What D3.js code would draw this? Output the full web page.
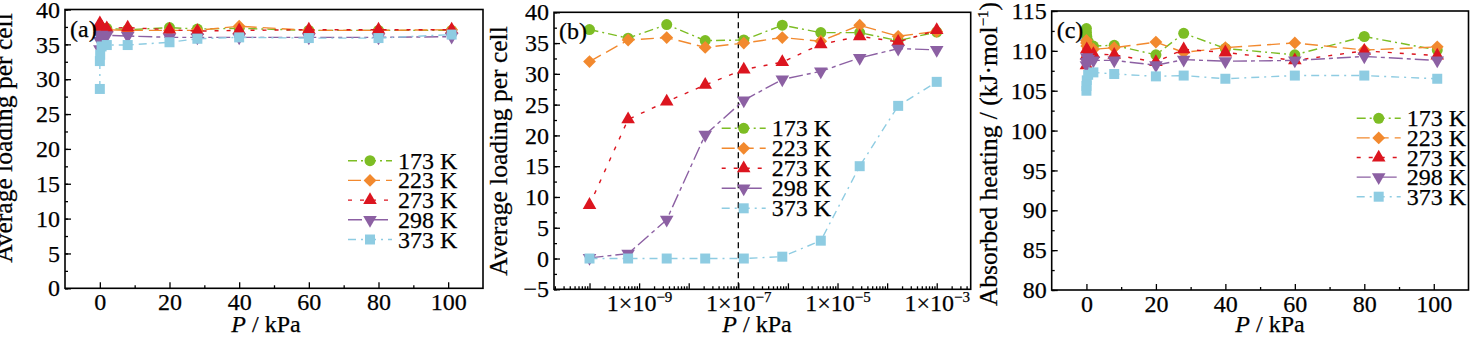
<!DOCTYPE html>
<html>
<head>
<meta charset="utf-8">
<script src="https://cdn.jsdelivr.net/npm/d3@7/dist/d3.min.js"></script>
<style>
  body { margin: 0; background: #fff; }
  svg text { font-family: "Liberation Serif", "Times New Roman", Times, serif; fill: #000; stroke: #000; stroke-width: 0.25px; }
</style>
</head>
<body>
<div id="chart"></div>
<script>
// Series labels (temperatures)
const temperatures = ["173 K", "223 K", "273 K", "298 K", "373 K"];

// (a) and (c): pressure in kPa, linear axis
const pressureKPa = [0.001, 0.01, 0.1, 0.5, 2, 8, 20, 28, 40, 60, 80, 101];

// (a) average loading per cell
const loadingA173 = [37.0, 37.3, 37.5, 37.4, 37.3, 37.1, 37.4, 37.2, 37.3, 37.0, 37.0, 37.0];
const loadingA223 = [36.6, 37.2, 37.6, 37.3, 37.1, 37.0, 37.0, 37.0, 37.6, 37.0, 37.0, 37.1];
const loadingA273 = [37.6, 38.0, 37.8, 37.5, 37.3, 37.4, 37.1, 36.9, 37.0, 37.1, 37.1, 37.1];
const loadingA298 = [34.3, 35.5, 36.2, 36.4, 36.3, 36.2, 36.0, 36.0, 36.0, 36.0, 36.0, 36.1];
const loadingA373 = [28.6, 32.6, 33.5, 34.7, 34.9, 34.9, 35.3, 35.8, 36.0, 35.9, 35.9, 36.4];

// (b): low pressure range, log axis
const pressureLowKPa = [1e-10, 6.0e-10, 3.6e-9, 2.15e-8, 1.29e-7, 7.7e-7, 4.6e-6, 2.8e-5, 1.67e-4, 1e-3];
const loadingB173 = [37.2, 35.8, 38.0, 35.4, 35.5, 37.9, 36.7, 36.7, 35.4, 36.8];
const loadingB223 = [32.0, 35.5, 35.9, 34.3, 35.0, 35.9, 35.3, 37.9, 36.1, 36.9];
const loadingB273 = [8.7, 22.6, 25.5, 28.2, 30.7, 31.9, 34.8, 36.1, 35.2, 37.1];
const loadingB298 = [0.1, 0.8, 6.3, 20.1, 25.7, 29.1, 30.4, 32.6, 34.1, 33.9];
const loadingB373 = [0.0, 0.0, 0.0, 0.0, 0.0, 0.3, 2.9, 15.0, 24.8, 28.7];

// (c) absorbed heating, kJ/mol
const heatC173 = [112.8, 112.3, 111.8, 111.2, 110.6, 110.7, 109.5, 112.2, 110.3, 109.5, 111.8, 110.1];
const heatC223 = [111.3, 111.0, 110.6, 110.3, 110.2, 110.4, 111.1, 109.8, 110.4, 111.0, 110.1, 110.5];
const heatC273 = [108.2, 109.4, 110.2, 109.8, 109.6, 109.5, 108.6, 110.2, 109.8, 108.8, 110.0, 109.4];
const heatC298 = [108.2, 108.6, 109.2, 109.0, 108.8, 108.8, 108.2, 108.9, 108.7, 108.8, 109.3, 108.8];
const heatC373 = [105.0, 105.6, 106.3, 107.0, 107.3, 107.1, 106.8, 106.9, 106.5, 106.9, 106.9, 106.5];

// Tick values
const linearTicks = [0, 20, 40, 60, 80, 100];
const linearMinorTicks = [10, 30, 50, 70, 90];
const loadingTicksA = [0, 5, 10, 15, 20, 25, 30, 35, 40];
const loadingTicksB = [-5, 0, 5, 10, 15, 20, 25, 30, 35, 40];
const heatTicks = [80, 85, 90, 95, 100, 105, 110, 115];
const logLabelExponents = [-9, -7, -5, -3];

// Per-series look: colour, marker and dash pattern
const seriesStyle = [
  { color: "#7dbd24", symbol: "circle",   dash: "9,4,2,4" },
  { color: "#f2892e", symbol: "diamond",  dash: "13,6" },
  { color: "#dc151f", symbol: "triangle", dash: "4,8" },
  { color: "#8c60a3", symbol: "down",     dash: "14,4,4,4" },
  { color: "#8ecce2", symbol: "square",   dash: "8,5,2,5" }
];

const TICK_FONT = 24;

const svg = d3.select("#chart").append("svg")
  .attr("width", 1470)
  .attr("height", 342);

function markerPath(kind) {
  if (kind === "circle") return d3.symbol(d3.symbolCircle, 95)();
  if (kind === "square") return d3.symbol(d3.symbolSquare, 100)();
  if (kind === "diamond") return d3.symbol(d3.symbolSquare, 82)();
  return d3.symbol(d3.symbolTriangle, 80)();
}
function markerRotation(kind) {
  if (kind === "diamond") return 45;
  if (kind === "down") return 180;
  return 0;
}

function drawMarker(g, kind, color, cx, cy) {
  g.append("path")
    .attr("d", markerPath(kind))
    .attr("fill", color)
    .attr("transform", `translate(${cx},${cy}) rotate(${markerRotation(kind)})`);
}

function drawPanel(p) {
  const g = svg.append("g");

  const x = (p.log ? d3.scaleLog() : d3.scaleLinear())
    .domain(p.xDomain)
    .range([p.left, p.right]);
  const y = d3.scaleLinear()
    .domain(p.yDomain)
    .range([p.bottom, p.top]);

  // y axis, ticks pointing inward
  const yMinor = [];
  for (let v = p.yDomain[0]; v <= p.yDomain[1]; v += 2.5) yMinor.push(v);
  g.append("g")
    .attr("transform", `translate(${p.left},0)`)
    .call(d3.axisLeft(y).tickValues(yMinor).tickSize(-3).tickFormat(""))
    .call(a => a.select(".domain").remove());
  const yAxis = g.append("g")
    .attr("transform", `translate(${p.left},0)`)
    .call(d3.axisLeft(y).tickValues(p.yTicks).tickSize(-6).tickPadding(5));
  yAxis.select(".domain").remove();
  yAxis.attr("font-size", TICK_FONT).attr("font-family", null);
  yAxis.selectAll(".tick text").text(d => d < 0 ? "\u2212" + Math.abs(d) : d);

  // x axis
  let xAxis;
  if (p.log) {
    const minor = [];
    for (let k = -11; k <= -3; k++) {
      for (let m = 2; m <= 9; m++) {
        const v = m * Math.pow(10, k);
        if (v > p.xDomain[0] && v < p.xDomain[1]) minor.push(v);
      }
    }
    const major = d3.range(-10, -2).map(k => Math.pow(10, k));
    g.append("g")
      .attr("transform", `translate(0,${p.bottom})`)
      .call(d3.axisBottom(x).tickValues(minor).tickSize(-3).tickFormat(""))
      .call(a => a.select(".domain").remove());
    xAxis = g.append("g")
      .attr("transform", `translate(0,${p.bottom})`)
      .call(d3.axisBottom(x).tickValues(major).tickSize(-6).tickPadding(5).tickFormat(""));
    xAxis.selectAll(".tick text").each(function (d) {
      const e = Math.round(Math.log10(d));
      if (!logLabelExponents.includes(e)) return;
      const t = d3.select(this);
      t.append("tspan").text("1\u00d710");
      t.append("tspan").attr("font-size", 15).attr("dy", -9).text("\u2212" + Math.abs(e));
    });
  } else {
    g.append("g")
      .attr("transform", `translate(0,${p.bottom})`)
      .call(d3.axisBottom(x).tickValues(linearMinorTicks).tickSize(-3).tickFormat(""))
      .call(a => a.select(".domain").remove());
    xAxis = g.append("g")
      .attr("transform", `translate(0,${p.bottom})`)
      .call(d3.axisBottom(x).tickValues(linearTicks).tickSize(-6).tickPadding(5));
  }
  xAxis.select(".domain").remove();
  xAxis.attr("font-size", TICK_FONT).attr("font-family", null);

  g.selectAll(".tick line").attr("stroke", "#000").attr("stroke-width", 1.3);

  // reference line at 1e-7 kPa in the log panel
  if (p.marker) {
    g.append("line")
      .attr("x1", x(p.marker)).attr("x2", x(p.marker))
      .attr("y1", p.top).attr("y2", p.bottom)
      .attr("stroke", "#000")
      .attr("stroke-width", 1.3)
      .attr("stroke-dasharray", "6,4");
  }

  // series
  const line = d3.line().x(d => x(d[0])).y(d => y(d[1]));
  p.series.forEach((values, i) => {
    const st = seriesStyle[i];
    const pts = p.xValues.map((xv, j) => [xv, values[j]]);
    g.append("path")
      .datum(pts)
      .attr("d", line)
      .attr("fill", "none")
      .attr("stroke", st.color)
      .attr("stroke-width", 1.4)
      .attr("stroke-dasharray", st.dash);
    pts.forEach(d => drawMarker(g, st.symbol, st.color, x(d[0]), y(d[1])));
  });

  // frame
  g.append("rect")
    .attr("x", p.left).attr("y", p.top)
    .attr("width", p.right - p.left)
    .attr("height", p.bottom - p.top)
    .attr("fill", "none")
    .attr("stroke", "#000")
    .attr("stroke-width", 1.6);

  // panel tag
  g.append("text")
    .attr("x", p.left + 5)
    .attr("y", p.top + 27)
    .attr("font-size", 24)
    .text(p.tag);

  // axis titles
  const xt = g.append("text")
    .attr("x", p.xTitleX)
    .attr("y", 332)
    .attr("text-anchor", "middle")
    .attr("font-size", 24);
  xt.append("tspan").attr("font-style", "italic").text("P");
  xt.append("tspan").text(" / kPa");

  const yt = g.append("text")
    .attr("transform", `translate(${p.yTitleX},${p.yTitleY}) rotate(-90)`)
    .attr("text-anchor", "middle")
    .attr("font-size", 25.5);
  p.yTitle.forEach(part => {
    const s = yt.append("tspan").text(part.text);
    if (part.sup) s.attr("font-size", 15).attr("dy", -9);
    if (part.down) s.attr("dy", 9);
  });

  // legend
  const lg = g.append("g");
  temperatures.forEach((label, i) => {
    const st = seriesStyle[i];
    const cy = p.legend.y + i * p.legend.gap;
    lg.append("line")
      .attr("x1", p.legend.x).attr("x2", p.legend.x + 44)
      .attr("y1", cy).attr("y2", cy)
      .attr("stroke", st.color)
      .attr("stroke-width", 1.4)
      .attr("stroke-dasharray", st.dash);
    drawMarker(lg, st.symbol, st.color, p.legend.x + 22, cy);
    lg.append("text")
      .attr("x", p.legend.x + 50)
      .attr("y", cy + 8)
      .attr("font-size", 24)
      .text(label);
  });
}

drawPanel({
  tag: "(a)", left: 65, right: 483, top: 9.5, bottom: 288.3,
  xDomain: [-10, 110], yDomain: [0, 40], yTicks: loadingTicksA,
  xValues: pressureKPa,
  series: [loadingA173, loadingA223, loadingA273, loadingA298, loadingA373],
  xTitleX: 266, yTitleX: 12, yTitleY: 138,
  yTitle: [{ text: "Average loading per cell" }],
  legend: { x: 348, y: 160.7, gap: 19.7 }
});

drawPanel({
  tag: "(b)", left: 554, right: 970.7, top: 12.3, bottom: 289.3, log: true,
  xDomain: [Math.pow(10, -10.716), Math.pow(10, -2.315)], yDomain: [-5, 40], yTicks: loadingTicksB,
  xValues: pressureLowKPa, marker: 1e-7,
  series: [loadingB173, loadingB223, loadingB273, loadingB298, loadingB373],
  xTitleX: 757, yTitleX: 507, yTitleY: 151,
  yTitle: [{ text: "Average loading per cell" }],
  legend: { x: 721.7, y: 128.3, gap: 20 }
});

drawPanel({
  tag: "(c)", left: 1051.7, right: 1468.5, top: 11, bottom: 290,
  xDomain: [-10, 110], yDomain: [80, 115], yTicks: heatTicks,
  xValues: pressureKPa,
  series: [heatC173, heatC223, heatC273, heatC298, heatC373],
  xTitleX: 1270, yTitleX: 997, yTitleY: 154,
  yTitle: [{ text: "Absorbed heating / (kJ\u00b7mol" }, { text: "\u22121", sup: true }, { text: ")", down: true }],
  legend: { x: 1356.7, y: 118.3, gap: 19.6 }
});
</script>
</body>
</html>
